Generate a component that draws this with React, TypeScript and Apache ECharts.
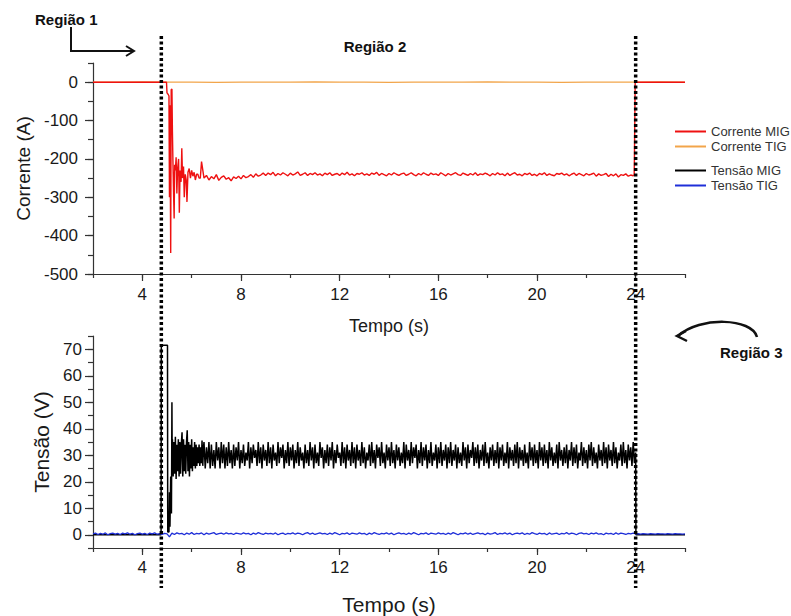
import React, { useEffect, useRef } from 'react';
import * as echarts from 'echarts';

const FONT = '"Liberation Sans", Arial, Helvetica, sans-serif';

// ---- axes ----
const X_MIN = 2;
const X_MAX = 26;
const xTickLabels = [4, 8, 12, 16, 20, 24];
const currentTickLabels = [-500, -400, -300, -200, -100, 0];
const voltageTickLabels = [0, 10, 20, 30, 40, 50, 60, 70];
const regionBoundaries = [4.77, 24.0];

// ---- Corrente MIG (A) ----
const migCurrentTransientT = [2, 4.98, 5.0, 5.05, 5.08, 5.1, 5.12, 5.15, 5.17, 5.2, 5.22, 5.24, 5.27, 5.29, 5.31, 5.34, 5.37, 5.4, 5.43, 5.47, 5.5, 5.53, 5.57, 5.6, 5.63, 5.67, 5.7, 5.74, 5.78, 5.81, 5.85, 5.9, 5.95, 6.0, 6.05, 6.1, 6.15, 6.2, 6.25, 6.3, 6.35, 6.4];
const migCurrentTransientV = [0, 0, -28, -32, -36, -300, -60, -445, -20, -18, -130, -205, -300, -355, -215, -230, -196, -290, -225, -200, -340, -230, -260, -172, -250, -220, -300, -240, -255, -312, -235, -225, -250, -230, -245, -235, -255, -240, -240, -250, -250, -207];
const migCurrentSteadyStart = 6.5;
const migCurrentSteadyStep = 0.1;
const migCurrentSteady = [
  -250, -243, -255, -246, -252, -241, -256, -248, -244, -253, -249, -257, -247, -251, -245,
  -252, -243, -249, -246, -241, -248, -239, -245, -242, -237,
  -243, -237, -241, -235, -244, -238, -242, -236, -240, -244,
  -237, -242, -239, -234, -243, -240, -236, -243, -238, -241,
  -236, -242, -239, -244, -237, -241, -236, -243, -240, -238,
  -243, -237, -241, -235, -242, -239, -244, -238, -240, -236,
  -242, -239, -243, -237, -240, -235, -243, -238, -241, -244,
  -238, -242, -236, -240, -243, -239, -237, -243, -240, -236,
  -241, -244, -238, -242, -236, -240, -243, -237, -241, -239,
  -243, -236, -240, -244, -238, -242, -239, -236, -241, -243,
  -237, -240, -243, -238, -242, -236, -243, -239, -241, -237,
  -240, -244, -238, -242, -236, -241, -239, -244, -237, -243,
  -239, -236, -242, -240, -244, -238, -241, -237, -243, -240,
  -244, -238, -241, -236, -243, -239, -242, -244, -238, -240,
  -237, -242, -239, -244, -240, -237, -243, -238, -241, -244,
  -238, -242, -240, -237, -245, -239, -243, -241, -238, -246,
  -240, -244, -239, -247, -241, -243, -239, -245, -242, -244,
];
const migCurrentEndT = [23.94, 23.95, 23.97, 23.98, 26];
const migCurrentEndV = [-242, -195, -195, 0, 0];

// ---- Corrente TIG (A) ----
const tigCurrentStart = 2;
const tigCurrentStep = 1;
const tigCurrent = [0, 0, 0.5, 0, 0, -0.5, 0, 0, 0, 0.5, 0, 0, -0.5, 0, 0, 0, 0.5, 0, 0, -0.5, 0, 0, 0, 0.5, 0];

// ---- Tensão MIG (V) ----
const migVoltageTransientT = [2, 4.76, 4.77, 5.02, 5.03, 5.08, 5.1, 5.12, 5.15, 5.18, 5.2, 5.21];
const migVoltageTransientV = [0, 0, 71.5, 71.5, 1, 1, 16, 3, 22, 8, 50, 28];
const migVoltageEarlyStart = 5.22;
const migVoltageEarlyStep = 0.03;
const migVoltageEarly = [
  36, 22, 35, 23, 37, 21, 34, 24, 36, 22,
  35, 23, 34, 38.7, 22, 36, 24, 34, 23, 35,
  39.4, 24, 35, 22, 34, 25, 36, 24, 33, 26,
  35, 25, 34, 26, 33, 27, 34, 26, 33, 27,
  35.6, 26, 33,
];
const migVoltageSteadyStart = 6.5;
const migVoltageSteadyStep = 0.05;
const migVoltageSteady = [
  35, 25, 33, 27, 35, 25, 34, 26, 32, 25, 35, 28, 33, 25, 35, 27, 34, 25, 33, 26, 35, 27, 32, 25, 34,
  26, 33, 28, 35, 25, 32, 27, 34, 26, 31, 28, 35, 25, 33, 27, 34, 29, 32, 26, 35, 27, 33, 25, 34, 28,
  32, 26, 35, 27, 33, 25, 34, 28, 31, 26, 35, 27, 33, 29, 34, 25, 32, 27, 35, 26, 33, 28, 34, 25, 32,
  27, 35, 26, 33, 28, 31, 25, 34, 27, 32, 26, 35, 28, 33, 25, 34, 27, 31, 26, 35, 29, 33, 25, 32, 27,
  34, 26, 33, 28, 35, 25, 32, 27, 34, 29, 31, 26, 35, 27, 33, 25, 34, 28, 32, 26, 35, 27, 33, 25, 34,
  28, 32, 26, 35, 27, 33, 25, 31, 28, 34, 26, 35, 27, 32, 25, 34, 29, 33, 26, 35, 27, 31, 25, 34, 28,
  33, 26, 35, 27, 32, 25, 34, 28, 33, 26, 31, 27, 35, 25, 34, 28, 32, 26, 35, 27, 33, 29, 34, 25, 32,
  27, 35, 26, 33, 28, 34, 25, 32, 27, 35, 26, 31, 28, 34, 25, 33, 27, 35, 26, 32, 28, 34, 25, 33, 27,
  35, 26, 32, 28, 34, 25, 33, 27, 31, 26, 35, 28, 33, 25, 34, 27, 32, 29, 35, 26, 33, 27, 34, 25, 32,
  28, 34, 26, 35, 27, 31, 25, 33, 28, 34, 26, 32, 27, 35, 25, 33, 28, 34, 26, 31, 27, 35, 25, 33, 28,
  32, 26, 34, 27, 35, 25, 33, 28, 32, 26, 34, 27, 31, 25, 35, 28, 33, 26, 34, 27, 32, 25, 35, 28, 33,
  26, 34, 27, 32, 25, 35, 28, 33, 26, 31, 27, 34, 25, 35, 28, 32, 26, 33, 27, 34, 25, 32, 28, 35, 26,
  33, 27, 34, 25, 31, 28, 35, 26, 33, 27, 32, 25, 34, 28, 35, 26, 33, 27, 31, 25, 34, 28, 32, 26, 35,
  27, 33, 25, 34, 28, 32, 26, 35, 27, 33, 25, 31, 28, 34, 26, 35, 27, 32, 25, 34, 28, 33, 26, 35, 27,
  31,
];
const migVoltageEndT = [24.01, 26];
const migVoltageEndV = [0, 0];

// ---- Tensão TIG (V) ----
const tigVoltageStart = 2;
const tigVoltageStep = 0.1;
const tigVoltage = [
  0.3, 0.6, 0.1, 0.5, 0.2, 0.7, 0.0, 0.4, 0.6, 0.2, 0.5, 0.1, 0.6, 0.3, 0.7, 0.2, 0.5, 0.0, 0.4, 0.6,
  0.2, 0.5, 0.1, 0.6, 0.3, 0.7, 0.2, 0.4, 0.1, 0.5, 0.3, -0.8, 0.6, 0.1, 0.7, 0.3, 0.5, 0.0, 0.6, 0.2,
  0.8, 0.1, 0.5, 0.3, 0.7, 0.0, 0.6, 0.2, 0.5, 0.8, 0.1, 0.4, 0.6, 0.2, 0.7, 0.3, 0.5, 0.1, 0.6, 0.4,
  0.2, 0.7, 0.3, 0.5, 0.0, 0.6, 0.2, 0.8, 0.4, 0.1, 0.6, 0.3, 0.5, 0.2, 0.7, 0.0, 0.4, 0.6, 0.1, 0.5,
  0.3, 0.7, 0.2, 0.6, 0.4, 0.0, 0.5, 0.8, 0.2, 0.6, 0.1, 0.4, 0.7, 0.3, 0.5, 0.1, 0.6, 0.2, 0.8, 0.4,
  0.0, 0.5, 0.3, 0.7, 0.1, 0.6, 0.4, 0.2, 0.7, 0.3, 0.5, 0.0, 0.6, 0.2, 0.8, 0.4, 0.1, 0.5, 0.3, 0.7,
  0.2, 0.6, 0.0, 0.4, 0.7, 0.3, 0.5, 0.1, 0.6, 0.2, 0.8, 0.4, 0.0, 0.5, 0.3, 0.7, 0.1, 0.6, 0.4, 0.2,
  0.7, 0.3, 0.5, 0.1, 0.6, 0.2, 0.8, 0.4, 0.0, 0.5, 0.3, 0.7, 0.2, 0.6, 0.1, 0.4, 0.7, 0.3, 0.5, 0.0,
  0.6, 0.2, 0.4, 0.8, 0.1, 0.5, 0.3, 0.7, 0.2, 0.6, 0.0, 0.4, 0.6, 0.3, 0.7, 0.1, 0.5, 0.2, 0.8, 0.4,
  0.1, 0.6, 0.3, 0.5, 0.0, 0.7, 0.2, 0.4, 0.6, 0.1, 0.5, 0.3, 0.8, 0.2, 0.6, 0.4, 0.0, 0.5, 0.7, 0.3,
  0.5, 0.1, 0.6, 0.3, 0.7, 0.2, 0.4, 0.0, 0.6, 0.3, 0.5, 0.1, 0.7, 0.2, 0.6, 0.4, 0.1, 0.5, 0.3, 0.6,
  0.3, 0.4, 0.2, 0.4, 0.3, 0.2, 0.4, 0.3, 0.2, 0.4, 0.3, 0.3, 0.2, 0.4, 0.3, 0.2, 0.4, 0.3, 0.3, 0.2,
  0.3,
];

const paired = (ts: number[], vs: number[]) => ts.map((t, i) => [t, vs[i]]);
const stepped = (start: number, step: number, vs: number[]) =>
  vs.map((v, i) => [Math.round((start + i * step) * 1000) / 1000, v]);

const migCurrentData = [
  ...paired(migCurrentTransientT, migCurrentTransientV),
  ...stepped(migCurrentSteadyStart, migCurrentSteadyStep, migCurrentSteady),
  ...paired(migCurrentEndT, migCurrentEndV),
];
const tigCurrentData = stepped(tigCurrentStart, tigCurrentStep, tigCurrent);
const migVoltageData = [
  ...paired(migVoltageTransientT, migVoltageTransientV),
  ...stepped(migVoltageEarlyStart, migVoltageEarlyStep, migVoltageEarly),
  ...stepped(migVoltageSteadyStart, migVoltageSteadyStep, migVoltageSteady),
  ...paired(migVoltageEndT, migVoltageEndV),
];
const tigVoltageData = stepped(tigVoltageStart, tigVoltageStep, tigVoltage);

const COLORS = {
  migCurrent: '#ee1111',
  tigCurrent: '#f2a54a',
  migVoltage: '#000000',
  tigVoltage: '#1f2fd8',
};

const axisColor = '#333';
const textColor = '#1a1a1a';

function primaryX(gridIndex: number, nameGap: number, nameSize: number, margin: number) {
  return {
    type: 'value',
    gridIndex,
    min: X_MIN,
    max: X_MAX,
    interval: 2,
    position: 'bottom',
    axisLine: { show: true, onZero: false, lineStyle: { color: axisColor, width: 1.2 } },
    axisTick: { show: true, length: 4, lineStyle: { color: axisColor, width: 1.2 } },
    axisLabel: {
      margin,
      fontSize: 17,
      color: textColor,
      fontFamily: FONT,
      formatter: (v: number) => (xTickLabels.includes(v) ? String(v) : ''),
    },
    splitLine: { show: false },
    name: 'Tempo (s)',
    nameLocation: 'middle',
    nameGap,
    nameTextStyle: { fontSize: nameSize, color: textColor, fontFamily: FONT },
  };
}
function secondaryX(gridIndex: number) {
  return {
    type: 'value',
    gridIndex,
    min: X_MIN,
    max: X_MAX,
    interval: 2,
    position: 'bottom',
    axisLine: { show: false, onZero: false },
    axisTick: { show: true, length: 7, customValues: xTickLabels, lineStyle: { color: axisColor, width: 1.2 } },
    axisLabel: { show: false },
    splitLine: { show: false },
  };
}

export default function App() {
  const ref = useRef<HTMLDivElement>(null);
  useEffect(() => {
    if (!ref.current) return;
    const chart = echarts.init(ref.current, undefined, { renderer: 'svg' });
    const legendBase = {
      orient: 'vertical',
      left: 675,
      padding: 0,
      itemWidth: 31,
      itemHeight: 2,
      itemGap: 2,
      icon: 'rect',
      textStyle: { fontSize: 13, color: '#333', fontFamily: FONT },
    };
    const option: any = {
      animation: false,
      backgroundColor: '#ffffff',
      grid: [
        { left: 93, top: 63, width: 592, height: 211 },
        { left: 93, top: 336, width: 592, height: 212 },
      ],
      xAxis: [primaryX(0, 43, 18, 12), secondaryX(0), primaryX(1, 46, 21, 11), secondaryX(1)],
      yAxis: [
        {
          type: 'value',
          gridIndex: 0,
          min: -500,
          max: 50,
          interval: 50,
          position: 'left',
          axisLine: { show: true, onZero: false, lineStyle: { color: axisColor, width: 1.2 } },
          axisTick: { show: true, length: 5, lineStyle: { color: axisColor, width: 1.2 } },
          axisLabel: {
            margin: 15,
            fontSize: 17,
            color: textColor,
            fontFamily: FONT,
            formatter: (v: number) => (currentTickLabels.includes(v) ? String(v) : ''),
          },
          splitLine: { show: false },
          name: 'Corrente (A)',
          nameLocation: 'middle',
          nameGap: 57,
          nameTextStyle: { fontSize: 19, color: textColor, fontFamily: FONT },
        },
        {
          type: 'value',
          gridIndex: 0,
          min: -500,
          max: 50,
          interval: 50,
          position: 'left',
          axisLine: { show: false, onZero: false },
          axisTick: { show: true, length: 8, customValues: currentTickLabels, lineStyle: { color: axisColor, width: 1.2 } },
          axisLabel: { show: false },
          splitLine: { show: false },
        },
        {
          type: 'value',
          gridIndex: 1,
          min: -5,
          max: 75,
          interval: 5,
          position: 'left',
          axisLine: { show: true, onZero: false, lineStyle: { color: axisColor, width: 1.2 } },
          axisTick: { show: true, length: 5, lineStyle: { color: axisColor, width: 1.2 } },
          axisLabel: {
            margin: 11,
            fontSize: 17,
            color: textColor,
            fontFamily: FONT,
            formatter: (v: number) => (voltageTickLabels.includes(v) ? String(v) : ''),
          },
          splitLine: { show: false },
          name: 'Tensão (V)',
          nameLocation: 'middle',
          nameGap: 41,
          nameTextStyle: { fontSize: 21, color: textColor, fontFamily: FONT },
        },
        {
          type: 'value',
          gridIndex: 1,
          min: -5,
          max: 75,
          interval: 5,
          position: 'left',
          axisLine: { show: false, onZero: false },
          axisTick: { show: true, length: 8, customValues: voltageTickLabels, lineStyle: { color: axisColor, width: 1.2 } },
          axisLabel: { show: false },
          splitLine: { show: false },
        },
      ],
      legend: [
        { ...legendBase, data: ['Corrente MIG', 'Corrente TIG'], top: 125 },
        { ...legendBase, data: ['Tensão MIG', 'Tensão TIG'], top: 164 },
      ],
      series: [
        {
          name: 'Corrente TIG',
          type: 'line',
          xAxisIndex: 0,
          yAxisIndex: 0,
          data: tigCurrentData,
          symbol: 'none',
          lineStyle: { color: COLORS.tigCurrent, width: 1.3 },
          itemStyle: { color: COLORS.tigCurrent },
          z: 2,
        },
        {
          name: 'Corrente MIG',
          type: 'line',
          xAxisIndex: 0,
          yAxisIndex: 0,
          data: migCurrentData,
          symbol: 'none',
          lineStyle: { color: COLORS.migCurrent, width: 1.4 },
          itemStyle: { color: COLORS.migCurrent },
          z: 3,
        },
        {
          name: 'Tensão MIG',
          type: 'line',
          xAxisIndex: 2,
          yAxisIndex: 2,
          data: migVoltageData,
          symbol: 'none',
          lineStyle: { color: COLORS.migVoltage, width: 1.5 },
          itemStyle: { color: COLORS.migVoltage },
          z: 2,
        },
        {
          name: 'Tensão TIG',
          type: 'line',
          xAxisIndex: 2,
          yAxisIndex: 2,
          data: tigVoltageData,
          symbol: 'none',
          lineStyle: { color: COLORS.tigVoltage, width: 1.3 },
          itemStyle: { color: COLORS.tigVoltage },
          z: 3,
        },
      ],
    };
    chart.setOption(option);

    const xs = regionBoundaries.map((t) => chart.convertToPixel({ xAxisIndex: 0 }, t) as number);
    const bold = (size: number) => `bold ${size}px ${FONT}`;
    const graphic: any[] = [
      ...xs.map((x) => ({
        type: 'line',
        z: 100,
        shape: { x1: x, y1: 36, x2: x, y2: 588 },
        style: { stroke: '#000', lineWidth: 3.5, lineDash: [3, 2.5] },
      })),
      { type: 'text', z: 100, x: 35, y: 19, style: { text: 'Região 1', font: bold(15), fill: '#111', align: 'left', verticalAlign: 'middle' } },
      { type: 'text', z: 100, x: 375, y: 46, style: { text: 'Região 2', font: bold(15), fill: '#111', align: 'center', verticalAlign: 'middle' } },
      { type: 'text', z: 100, x: 720, y: 352, style: { text: 'Região 3', font: bold(15), fill: '#111', align: 'left', verticalAlign: 'middle' } },
      { type: 'polyline', z: 100, shape: { points: [[71, 27], [71, 51], [133, 51]] }, style: { stroke: '#111', lineWidth: 2, fill: null } },
      { type: 'polyline', z: 100, shape: { points: [[126, 46], [134, 51], [126, 56]] }, style: { stroke: '#111', lineWidth: 2, fill: null } },
      {
        type: 'bezierCurve',
        z: 100,
        shape: { x1: 757, y1: 337, cpx1: 752, cpy1: 318, cpx2: 700, cpy2: 316, x2: 678, y2: 336 },
        style: { stroke: '#111', lineWidth: 2.5, fill: null },
      },
      { type: 'polyline', z: 100, shape: { points: [[686, 331], [677, 336], [687, 341]] }, style: { stroke: '#111', lineWidth: 2.5, fill: null } },
    ];
    chart.setOption({ graphic });

    return () => chart.dispose();
  }, []);
  return (
    <div
      ref={ref}
      style={{ position: 'fixed', left: 0, top: 0, width: 791, height: 616, background: '#fff' }}
    />
  );
}
